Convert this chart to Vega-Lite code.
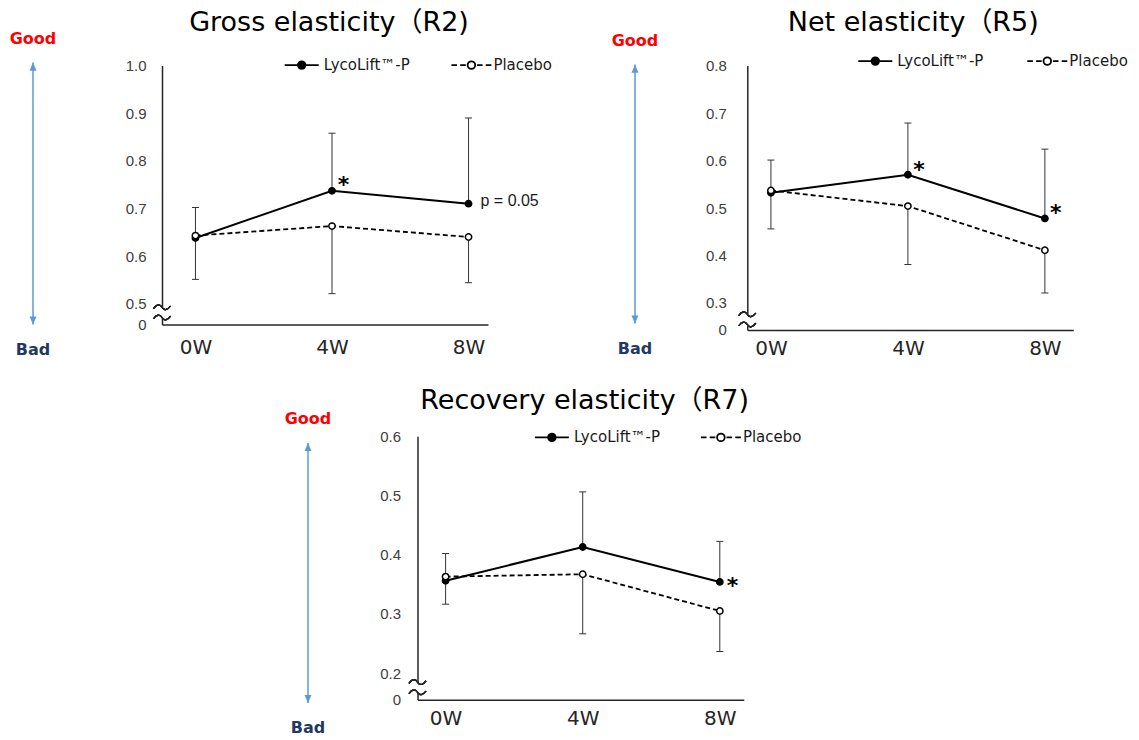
{
  "$schema": "https://vega.github.io/schema/vega-lite/v6.json",
  "background": "white",
  "padding": {"left": 9, "top": 8.6, "right": 0, "bottom": 0},
  "config": {"view": {"stroke": null, "fill": "white"}},
  "datasets": {
    "gross": [
      {"week": 0, "group": "LycoLift™-P", "mean": 0.638, "err": 0.702, "note": ""},
      {"week": 4, "group": "LycoLift™-P", "mean": 0.737, "err": 0.858, "note": "*"},
      {"week": 8, "group": "LycoLift™-P", "mean": 0.710, "err": 0.890, "note": "p = 0.05"},
      {"week": 0, "group": "Placebo", "mean": 0.643, "err": 0.551, "note": ""},
      {"week": 4, "group": "Placebo", "mean": 0.663, "err": 0.521, "note": ""},
      {"week": 8, "group": "Placebo", "mean": 0.640, "err": 0.544, "note": ""}
    ],
    "net": [
      {"week": 0, "group": "LycoLift™-P", "mean": 0.532, "err": 0.601, "note": ""},
      {"week": 4, "group": "LycoLift™-P", "mean": 0.570, "err": 0.679, "note": "*"},
      {"week": 8, "group": "LycoLift™-P", "mean": 0.478, "err": 0.624, "note": "*"},
      {"week": 0, "group": "Placebo", "mean": 0.537, "err": 0.456, "note": ""},
      {"week": 4, "group": "Placebo", "mean": 0.504, "err": 0.381, "note": ""},
      {"week": 8, "group": "Placebo", "mean": 0.411, "err": 0.321, "note": ""}
    ],
    "recovery": [
      {"week": 0, "group": "LycoLift™-P", "mean": 0.356, "err": 0.402, "note": ""},
      {"week": 4, "group": "LycoLift™-P", "mean": 0.413, "err": 0.506, "note": ""},
      {"week": 8, "group": "LycoLift™-P", "mean": 0.354, "err": 0.4225, "note": "*"},
      {"week": 0, "group": "Placebo", "mean": 0.363, "err": 0.3165, "note": ""},
      {"week": 4, "group": "Placebo", "mean": 0.367, "err": 0.2665, "note": ""},
      {"week": 8, "group": "Placebo", "mean": 0.305, "err": 0.2366, "note": ""}
    ],
    "arrow": [
      {"end": "Good", "v": 1},
      {"end": "Bad", "v": 0}
    ]
  },
  "spacing": 26.6,
  "resolve": {"scale": {"fill": "independent", "shape": "independent"}},
  "vconcat": [
    {
      "spacing": 58,
      "resolve": {"scale": {"fill": "independent", "shape": "independent"}},
      "hconcat": [
        {
          "spacing": 124,
          "bounds": "flush",
          "resolve": {"scale": {"fill": "independent", "shape": "independent"}},
          "hconcat": [
            {
              "width": 10, "height": 259,
              "data": {"name": "arrow"},
              "layer": [
                {"mark": {"type": "rule", "color": "#5B9BD5", "strokeWidth": 1.5},
                 "encoding": {"y": {"aggregate": "max", "field": "v", "type": "quantitative", "scale": {"domain": [0, 0.98855], "nice": false, "zero": false}, "axis": null},
                              "y2": {"aggregate": "min", "field": "v"}}},
                {"mark": {"type": "point", "filled": true, "color": "#5B9BD5", "opacity": 1, "size": 49, "strokeWidth": 0},
                 "encoding": {"y": {"field": "v", "type": "quantitative"},
                              "shape": {"field": "end", "type": "nominal", "scale": {"domain": ["Good", "Bad"], "range": ["M0,0L-1,2.3L1,2.3Z", "M0,0L-1,-2.3L1,-2.3Z"]}, "legend": null}}},
                {"transform": [{"filter": "datum.end === 'Good'"}],
                 "mark": {"type": "text", "font": "DejaVu Sans", "fontWeight": "bold", "fontSize": 16, "color": "#FF0000", "dy": -24, "baseline": "middle", "align": "center"},
                 "encoding": {"y": {"field": "v", "type": "quantitative"}, "text": {"field": "end"}}},
                {"transform": [{"filter": "datum.end === 'Bad'"}],
                 "mark": {"type": "text", "font": "DejaVu Sans", "fontWeight": "bold", "fontSize": 16, "color": "#1F3864", "dy": 25, "baseline": "middle", "align": "center"},
                 "encoding": {"y": {"field": "v", "type": "quantitative"}, "text": {"field": "end"}}}
              ]
            },
            {
              "width": 326, "height": 259,
              "data": {"name": "gross"},
              "title": {"text": "Gross elasticity（R2)", "frame": "group", "anchor": "middle", "dx": 4, "offset": 6.9, "font": "DejaVu Sans, Noto Sans CJK JP", "fontSize": 27, "fontWeight": "normal", "color": "#000000"},
              "layer": [
                {"mark": {"type": "rule", "color": "white", "strokeWidth": 4},
                 "encoding": {
                   "x": {"datum": -0.98, "type": "quantitative", "scale": {"domain": [-0.98, 8.57], "nice": false, "zero": false},
                         "axis": {"values": [0, 4, 8], "labelExpr": "datum.value + 'W'", "title": null, "grid": false, "ticks": false, "tickSize": 0, "labelFlush": false, "labelOverlap": false, "domainColor": "#262626", "domainWidth": 1.5, "labelFont": "DejaVu Sans", "labelFontSize": 20, "labelColor": "#262626", "labelPadding": 13}},
                   "y": {"datum": 0.492, "type": "quantitative", "scale": {"domain": [0.456, 1.0], "nice": false, "zero": false},
                         "axis": {"values": [0.456, 0.5, 0.6, 0.7, 0.8, 0.9, 1.0], "labelExpr": "datum.value < 0.47 ? '0' : format(datum.value, '.1f')", "title": null, "grid": false, "ticks": false, "tickSize": 0, "labelFlush": false, "labelOverlap": false, "domainColor": "#262626", "domainWidth": 1.5, "labelFont": "Liberation Sans", "labelFontSize": 15, "labelColor": "#404040", "labelPadding": 16}},
                   "y2": {"datum": 0.471}}},
                {"mark": {"type": "point", "shape": "M-1,-0.45C-0.6,-1,-0.25,-1,0,-0.6C0.25,-0.2,0.6,-0.2,1,-0.75M-1,0.75C-0.6,0.2,-0.25,0.2,0,0.6C0.25,1,0.6,1,1,0.45", "size": 289, "filled": false, "stroke": "#262626", "strokeWidth": 1.2, "opacity": 1},
                 "encoding": {"x": {"datum": -0.98, "type": "quantitative"}, "y": {"datum": 0.4817, "type": "quantitative"}}},
                {"mark": {"type": "rule", "color": "#333333", "strokeWidth": 1},
                 "encoding": {"x": {"field": "week", "type": "quantitative"}, "y": {"field": "mean", "type": "quantitative"}, "y2": {"field": "err"}}},
                {"mark": {"type": "tick", "orient": "horizontal", "size": 7, "thickness": 1, "color": "#333333", "opacity": 1},
                 "encoding": {"x": {"field": "week", "type": "quantitative"}, "y": {"field": "err", "type": "quantitative"}}},
                {"transform": [{"filter": "datum.group === 'Placebo'"}],
                 "mark": {"type": "line", "color": "black", "strokeWidth": 1.8, "strokeDash": [5, 3]},
                 "encoding": {"x": {"field": "week", "type": "quantitative"}, "y": {"field": "mean", "type": "quantitative"}}},
                {"transform": [{"filter": "datum.group !== 'Placebo'"}],
                 "mark": {"type": "line", "color": "black", "strokeWidth": 2},
                 "encoding": {"x": {"field": "week", "type": "quantitative"}, "y": {"field": "mean", "type": "quantitative"}}},
                {"mark": {"type": "point", "filled": true, "size": 40, "stroke": "black", "strokeWidth": 1.5, "opacity": 1},
                 "encoding": {"x": {"field": "week", "type": "quantitative"}, "y": {"field": "mean", "type": "quantitative"},
                   "fill": {"field": "group", "type": "nominal", "scale": {"domain": ["LycoLift™-P", "Placebo"], "range": ["black", "white"]},
                     "legend": {"orient": "none", "legendX": 118.7, "legendY": -21.5, "direction": "horizontal", "title": null, "padding": 0, "symbolSize": 1600, "symbolStrokeColor": "black", "symbolStrokeWidth": 1.8, "labelFont": "DejaVu Sans", "labelFontSize": 15, "labelColor": "#1a1a1a", "labelOffset": 1, "columnPadding": 36.7}}}},
                {"transform": [{"filter": "false"}],
                 "mark": {"type": "point", "filled": true, "stroke": "black", "strokeWidth": 1.8, "opacity": 1},
                 "encoding": {"x": {"field": "week", "type": "quantitative"}, "y": {"field": "mean", "type": "quantitative"},
                   "fill": {"field": "group", "type": "nominal",
                     "legend": {"orient": "none", "legendX": 118.7, "legendY": -21.5, "direction": "horizontal", "title": null, "padding": 0, "symbolSize": 1600, "symbolStrokeColor": "black", "symbolStrokeWidth": 1.8, "labelFont": "DejaVu Sans", "labelFontSize": 15, "labelColor": "#1a1a1a", "labelOffset": 1, "columnPadding": 36.7}},
                   "shape": {"field": "group", "type": "nominal", "scale": {"domain": ["LycoLift™-P", "Placebo"], "range": ["M-0.85,0H0.85M0.19,0A0.19,0.19,0,1,1,-0.19,0A0.19,0.19,0,1,1,0.19,0Z", "M-1,0H-0.72M-0.56,0H-0.28M0.28,0H0.56M0.72,0H1M0.19,0A0.19,0.19,0,1,1,-0.19,0A0.19,0.19,0,1,1,0.19,0Z"]},
                     "legend": {"orient": "none", "legendX": 118.7, "legendY": -21.5, "direction": "horizontal", "title": null, "padding": 0, "symbolSize": 1600, "symbolStrokeColor": "black", "symbolStrokeWidth": 1.8, "labelFont": "DejaVu Sans", "labelFontSize": 15, "labelColor": "#1a1a1a", "labelOffset": 1, "columnPadding": 36.7}}}},
                {"transform": [{"filter": "datum.note === '*'"}],
                 "mark": {"type": "text", "font": "DejaVu Sans", "fontWeight": "bold", "fontSize": 22, "baseline": "alphabetic", "align": "center", "dx": 11.5, "dy": 1, "color": "black"},
                 "encoding": {"x": {"field": "week", "type": "quantitative"}, "y": {"field": "mean", "type": "quantitative"}, "text": {"field": "note"}}},
                {"transform": [{"filter": "datum.note === 'p = 0.05'"}],
                 "mark": {"type": "text", "font": "Liberation Sans", "fontSize": 16, "baseline": "middle", "align": "left", "dx": 12, "dy": -3, "color": "#1a1a1a"},
                 "encoding": {"x": {"field": "week", "type": "quantitative"}, "y": {"field": "mean", "type": "quantitative"}, "text": {"field": "note"}}}
              ]
            }
          ]
        },
        {
          "spacing": 107.3,
          "bounds": "flush",
          "resolve": {"scale": {"fill": "independent", "shape": "independent"}},
          "hconcat": [
            {
              "width": 10, "height": 258,
              "data": {"name": "arrow"},
              "layer": [
                {"mark": {"type": "rule", "color": "#5B9BD5", "strokeWidth": 1.5},
                 "encoding": {"y": {"aggregate": "max", "field": "v", "type": "quantitative", "scale": {"domain": [0, 0.99614], "nice": false, "zero": false}, "axis": null},
                              "y2": {"aggregate": "min", "field": "v"}}},
                {"mark": {"type": "point", "filled": true, "color": "#5B9BD5", "opacity": 1, "size": 49, "strokeWidth": 0},
                 "encoding": {"y": {"field": "v", "type": "quantitative"},
                              "shape": {"field": "end", "type": "nominal", "scale": {"domain": ["Good", "Bad"], "range": ["M0,0L-1,2.3L1,2.3Z", "M0,0L-1,-2.3L1,-2.3Z"]}, "legend": null}}},
                {"transform": [{"filter": "datum.end === 'Good'"}],
                 "mark": {"type": "text", "font": "DejaVu Sans", "fontWeight": "bold", "fontSize": 16, "color": "#FF0000", "dy": -24, "baseline": "middle", "align": "center"},
                 "encoding": {"y": {"field": "v", "type": "quantitative"}, "text": {"field": "end"}}},
                {"transform": [{"filter": "datum.end === 'Bad'"}],
                 "mark": {"type": "text", "font": "DejaVu Sans", "fontWeight": "bold", "fontSize": 16, "color": "#1F3864", "dy": 25, "baseline": "middle", "align": "center"},
                 "encoding": {"y": {"field": "v", "type": "quantitative"}, "text": {"field": "end"}}}
              ]
            },
            {
              "width": 326, "height": 264.4,
              "data": {"name": "net"},
              "title": {"text": "Net elasticity（R5)", "frame": "group", "anchor": "middle", "dx": 3, "offset": 2.9, "font": "DejaVu Sans, Noto Sans CJK JP", "fontSize": 27, "fontWeight": "normal", "color": "#000000"},
              "layer": [
                {"mark": {"type": "rule", "color": "white", "strokeWidth": 4},
                 "encoding": {
                   "x": {"datum": -0.69, "type": "quantitative", "scale": {"domain": [-0.69, 8.83], "nice": false, "zero": false},
                         "axis": {"values": [0, 4, 8], "labelExpr": "datum.value + 'W'", "title": null, "grid": false, "ticks": false, "tickSize": 0, "labelFlush": false, "labelOverlap": false, "domainColor": "#262626", "domainWidth": 1.5, "labelFont": "DejaVu Sans", "labelFontSize": 20, "labelColor": "#262626", "labelPadding": 9, "labelDx": 3}},
                   "y": {"datum": 0.2768, "type": "quantitative", "scale": {"domain": [0.243, 0.8], "nice": false, "zero": false},
                         "axis": {"values": [0.243, 0.3, 0.4, 0.5, 0.6, 0.7, 0.8], "labelExpr": "datum.value < 0.27 ? '0' : format(datum.value, '.1f')", "title": null, "grid": false, "ticks": false, "tickSize": 0, "labelFlush": false, "labelOverlap": false, "domainColor": "#262626", "domainWidth": 1.5, "labelFont": "Liberation Sans", "labelFontSize": 15, "labelColor": "#404040", "labelPadding": 21}},
                   "y2": {"datum": 0.254}}},
                {"mark": {"type": "point", "shape": "M-1,-0.45C-0.6,-1,-0.25,-1,0,-0.6C0.25,-0.2,0.6,-0.2,1,-0.75M-1,0.75C-0.6,0.2,-0.25,0.2,0,0.6C0.25,1,0.6,1,1,0.45", "size": 289, "filled": false, "stroke": "#262626", "strokeWidth": 1.2, "opacity": 1},
                 "encoding": {"x": {"datum": -0.69, "type": "quantitative"}, "y": {"datum": 0.2654, "type": "quantitative"}}},
                {"mark": {"type": "rule", "color": "#333333", "strokeWidth": 1},
                 "encoding": {"x": {"field": "week", "type": "quantitative"}, "y": {"field": "mean", "type": "quantitative"}, "y2": {"field": "err"}}},
                {"mark": {"type": "tick", "orient": "horizontal", "size": 7, "thickness": 1, "color": "#333333", "opacity": 1},
                 "encoding": {"x": {"field": "week", "type": "quantitative"}, "y": {"field": "err", "type": "quantitative"}}},
                {"transform": [{"filter": "datum.group === 'Placebo'"}],
                 "mark": {"type": "line", "color": "black", "strokeWidth": 1.8, "strokeDash": [5, 3]},
                 "encoding": {"x": {"field": "week", "type": "quantitative"}, "y": {"field": "mean", "type": "quantitative"}}},
                {"transform": [{"filter": "datum.group !== 'Placebo'"}],
                 "mark": {"type": "line", "color": "black", "strokeWidth": 2},
                 "encoding": {"x": {"field": "week", "type": "quantitative"}, "y": {"field": "mean", "type": "quantitative"}}},
                {"mark": {"type": "point", "filled": true, "size": 40, "stroke": "black", "strokeWidth": 1.5, "opacity": 1},
                 "encoding": {"x": {"field": "week", "type": "quantitative"}, "y": {"field": "mean", "type": "quantitative"},
                   "fill": {"field": "group", "type": "nominal", "scale": {"domain": ["LycoLift™-P", "Placebo"], "range": ["black", "white"]},
                     "legend": {"orient": "none", "legendX": 107, "legendY": -25.5, "direction": "horizontal", "title": null, "padding": 0, "symbolSize": 1600, "symbolStrokeColor": "black", "symbolStrokeWidth": 1.8, "labelFont": "DejaVu Sans", "labelFontSize": 15, "labelColor": "#1a1a1a", "labelOffset": 1, "columnPadding": 39}}}},
                {"transform": [{"filter": "false"}],
                 "mark": {"type": "point", "filled": true, "stroke": "black", "strokeWidth": 1.8, "opacity": 1},
                 "encoding": {"x": {"field": "week", "type": "quantitative"}, "y": {"field": "mean", "type": "quantitative"},
                   "fill": {"field": "group", "type": "nominal",
                     "legend": {"orient": "none", "legendX": 107, "legendY": -25.5, "direction": "horizontal", "title": null, "padding": 0, "symbolSize": 1600, "symbolStrokeColor": "black", "symbolStrokeWidth": 1.8, "labelFont": "DejaVu Sans", "labelFontSize": 15, "labelColor": "#1a1a1a", "labelOffset": 1, "columnPadding": 39}},
                   "shape": {"field": "group", "type": "nominal", "scale": {"domain": ["LycoLift™-P", "Placebo"], "range": ["M-0.85,0H0.85M0.19,0A0.19,0.19,0,1,1,-0.19,0A0.19,0.19,0,1,1,0.19,0Z", "M-1,0H-0.72M-0.56,0H-0.28M0.28,0H0.56M0.72,0H1M0.19,0A0.19,0.19,0,1,1,-0.19,0A0.19,0.19,0,1,1,0.19,0Z"]},
                     "legend": {"orient": "none", "legendX": 107, "legendY": -25.5, "direction": "horizontal", "title": null, "padding": 0, "symbolSize": 1600, "symbolStrokeColor": "black", "symbolStrokeWidth": 1.8, "labelFont": "DejaVu Sans", "labelFontSize": 15, "labelColor": "#1a1a1a", "labelOffset": 1, "columnPadding": 39}}}},
                {"transform": [{"filter": "datum.note === '*'"}],
                 "mark": {"type": "text", "font": "DejaVu Sans", "fontWeight": "bold", "fontSize": 22, "baseline": "alphabetic", "align": "center", "dx": 11, "dy": 1.9, "color": "black"},
                 "encoding": {"x": {"field": "week", "type": "quantitative"}, "y": {"field": "mean", "type": "quantitative"}, "text": {"field": "note"}}}
              ]
            }
          ]
        }
      ]
    },
    {
      "spacing": 0,
      "resolve": {"scale": {"fill": "independent", "shape": "independent"}},
      "hconcat": [
        {"width": 255.4, "height": 10, "data": {"values": [{"s": 1}]}, "mark": {"type": "point", "opacity": 0}},
        {
          "spacing": 104.5,
          "bounds": "flush",
          "resolve": {"scale": {"fill": "independent", "shape": "independent"}},
          "hconcat": [
            {
              "width": 10, "height": 266.8,
              "data": {"name": "arrow"},
              "layer": [
                {"mark": {"type": "rule", "color": "#5B9BD5", "strokeWidth": 1.5},
                 "encoding": {"y": {"aggregate": "max", "field": "v", "type": "quantitative", "scale": {"domain": [0, 1.02576], "nice": false, "zero": false}, "axis": null},
                              "y2": {"aggregate": "min", "field": "v"}}},
                {"mark": {"type": "point", "filled": true, "color": "#5B9BD5", "opacity": 1, "size": 49, "strokeWidth": 0},
                 "encoding": {"y": {"field": "v", "type": "quantitative"},
                              "shape": {"field": "end", "type": "nominal", "scale": {"domain": ["Good", "Bad"], "range": ["M0,0L-1,2.3L1,2.3Z", "M0,0L-1,-2.3L1,-2.3Z"]}, "legend": null}}},
                {"transform": [{"filter": "datum.end === 'Good'"}],
                 "mark": {"type": "text", "font": "DejaVu Sans", "fontWeight": "bold", "fontSize": 16, "color": "#FF0000", "dy": -24, "baseline": "middle", "align": "center"},
                 "encoding": {"y": {"field": "v", "type": "quantitative"}, "text": {"field": "end"}}},
                {"transform": [{"filter": "datum.end === 'Bad'"}],
                 "mark": {"type": "text", "font": "DejaVu Sans", "fontWeight": "bold", "fontSize": 16, "color": "#1F3864", "dy": 25, "baseline": "middle", "align": "center"},
                 "encoding": {"y": {"field": "v", "type": "quantitative"}, "text": {"field": "end"}}}
              ]
            },
            {
              "width": 326.3, "height": 263.5,
              "data": {"name": "recovery"},
              "title": {"text": "Recovery elasticity（R7)", "frame": "group", "anchor": "middle", "dx": 4, "offset": 1.8, "font": "DejaVu Sans, Noto Sans CJK JP", "fontSize": 27, "fontWeight": "normal", "color": "#000000"},
              "layer": [
                {"mark": {"type": "rule", "color": "white", "strokeWidth": 4},
                 "encoding": {
                   "x": {"datum": -0.82, "type": "quantitative", "scale": {"domain": [-0.82, 8.70], "nice": false, "zero": false},
                         "axis": {"values": [0, 4, 8], "labelExpr": "datum.value + 'W'", "title": null, "grid": false, "ticks": false, "tickSize": 0, "labelFlush": false, "labelOverlap": false, "domainColor": "#262626", "domainWidth": 1.5, "labelFont": "DejaVu Sans", "labelFontSize": 20, "labelColor": "#262626", "labelPadding": 9, "labelDx": 10}},
                   "y": {"datum": 0.1848, "type": "quantitative", "scale": {"domain": [0.1553, 0.6], "nice": false, "zero": false},
                         "axis": {"values": [0.1553, 0.2, 0.3, 0.4, 0.5, 0.6], "labelExpr": "datum.value < 0.18 ? '0' : format(datum.value, '.1f')", "title": null, "grid": false, "ticks": false, "tickSize": 0, "labelFlush": false, "labelOverlap": false, "domainColor": "#262626", "domainWidth": 1.5, "labelFont": "Liberation Sans", "labelFontSize": 15, "labelColor": "#404040", "labelPadding": 17}},
                   "y2": {"datum": 0.1679}}},
                {"mark": {"type": "point", "shape": "M-1,-0.45C-0.6,-1,-0.25,-1,0,-0.6C0.25,-0.2,0.6,-0.2,1,-0.75M-1,0.75C-0.6,0.2,-0.25,0.2,0,0.6C0.25,1,0.6,1,1,0.45", "size": 289, "filled": false, "stroke": "#262626", "strokeWidth": 1.2, "opacity": 1},
                 "encoding": {"x": {"datum": -0.82, "type": "quantitative"}, "y": {"datum": 0.1764, "type": "quantitative"}}},
                {"mark": {"type": "rule", "color": "#333333", "strokeWidth": 1},
                 "encoding": {"x": {"field": "week", "type": "quantitative"}, "y": {"field": "mean", "type": "quantitative"}, "y2": {"field": "err"}}},
                {"mark": {"type": "tick", "orient": "horizontal", "size": 7, "thickness": 1, "color": "#333333", "opacity": 1},
                 "encoding": {"x": {"field": "week", "type": "quantitative"}, "y": {"field": "err", "type": "quantitative"}}},
                {"transform": [{"filter": "datum.group === 'Placebo'"}],
                 "mark": {"type": "line", "color": "black", "strokeWidth": 1.8, "strokeDash": [5, 3]},
                 "encoding": {"x": {"field": "week", "type": "quantitative"}, "y": {"field": "mean", "type": "quantitative"}}},
                {"transform": [{"filter": "datum.group !== 'Placebo'"}],
                 "mark": {"type": "line", "color": "black", "strokeWidth": 2},
                 "encoding": {"x": {"field": "week", "type": "quantitative"}, "y": {"field": "mean", "type": "quantitative"}}},
                {"mark": {"type": "point", "filled": true, "size": 40, "stroke": "black", "strokeWidth": 1.5, "opacity": 1},
                 "encoding": {"x": {"field": "week", "type": "quantitative"}, "y": {"field": "mean", "type": "quantitative"},
                   "fill": {"field": "group", "type": "nominal", "scale": {"domain": ["LycoLift™-P", "Placebo"], "range": ["black", "white"]},
                     "legend": {"orient": "none", "legendX": 113.4, "legendY": -19.8, "direction": "horizontal", "title": null, "padding": 0, "symbolSize": 1600, "symbolStrokeColor": "black", "symbolStrokeWidth": 1.8, "labelFont": "DejaVu Sans", "labelFontSize": 15, "labelColor": "#1a1a1a", "labelOffset": 1, "columnPadding": 36}}}},
                {"transform": [{"filter": "false"}],
                 "mark": {"type": "point", "filled": true, "stroke": "black", "strokeWidth": 1.8, "opacity": 1},
                 "encoding": {"x": {"field": "week", "type": "quantitative"}, "y": {"field": "mean", "type": "quantitative"},
                   "fill": {"field": "group", "type": "nominal",
                     "legend": {"orient": "none", "legendX": 113.4, "legendY": -19.8, "direction": "horizontal", "title": null, "padding": 0, "symbolSize": 1600, "symbolStrokeColor": "black", "symbolStrokeWidth": 1.8, "labelFont": "DejaVu Sans", "labelFontSize": 15, "labelColor": "#1a1a1a", "labelOffset": 1, "columnPadding": 36}},
                   "shape": {"field": "group", "type": "nominal", "scale": {"domain": ["LycoLift™-P", "Placebo"], "range": ["M-0.85,0H0.85M0.19,0A0.19,0.19,0,1,1,-0.19,0A0.19,0.19,0,1,1,0.19,0Z", "M-1,0H-0.72M-0.56,0H-0.28M0.28,0H0.56M0.72,0H1M0.19,0A0.19,0.19,0,1,1,-0.19,0A0.19,0.19,0,1,1,0.19,0Z"]},
                     "legend": {"orient": "none", "legendX": 113.4, "legendY": -19.8, "direction": "horizontal", "title": null, "padding": 0, "symbolSize": 1600, "symbolStrokeColor": "black", "symbolStrokeWidth": 1.8, "labelFont": "DejaVu Sans", "labelFontSize": 15, "labelColor": "#1a1a1a", "labelOffset": 1, "columnPadding": 36}}}},
                {"transform": [{"filter": "datum.note === '*'"}],
                 "mark": {"type": "text", "font": "DejaVu Sans", "fontWeight": "bold", "fontSize": 22, "baseline": "alphabetic", "align": "center", "dx": 12.6, "dy": 10.6, "color": "black"},
                 "encoding": {"x": {"field": "week", "type": "quantitative"}, "y": {"field": "mean", "type": "quantitative"}, "text": {"field": "note"}}}
              ]
            }
          ]
        }
      ]
    }
  ]
}
